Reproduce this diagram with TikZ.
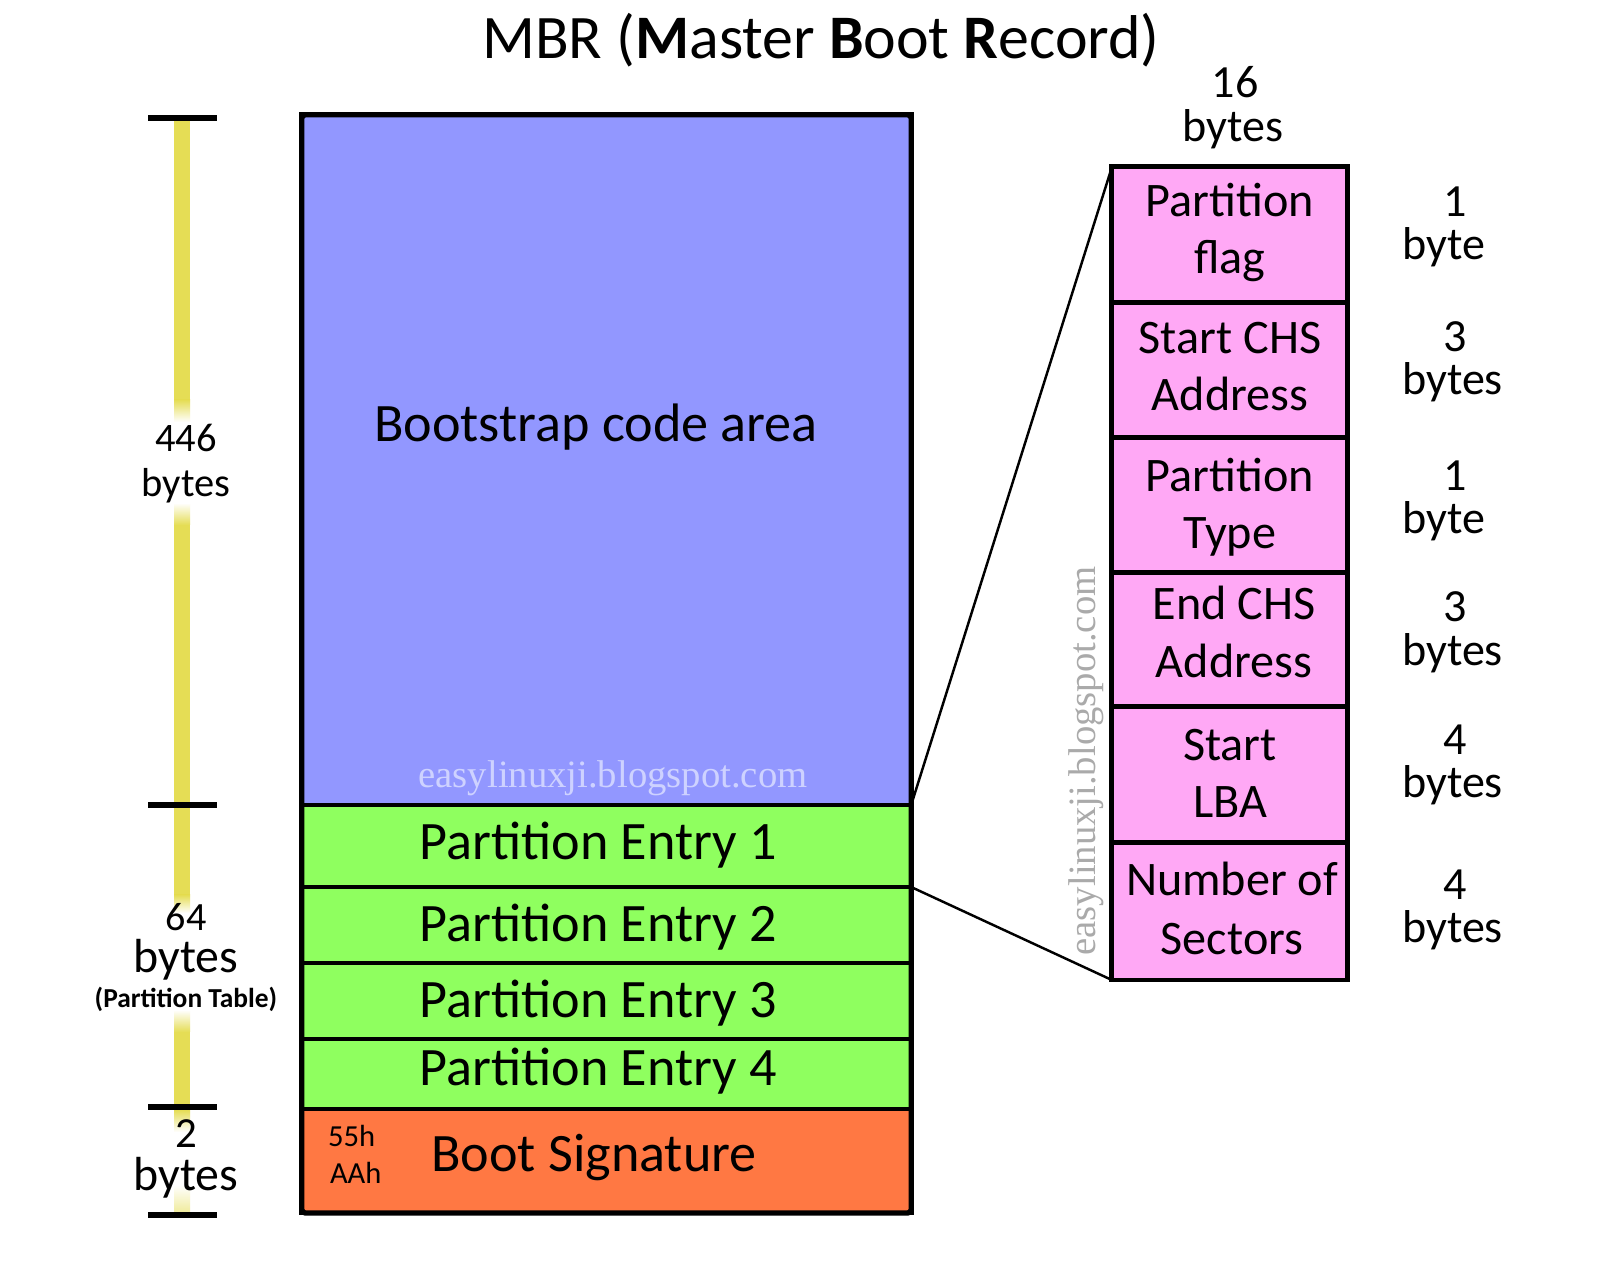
\documentclass[tikz,border=0pt]{standalone}
\usepackage{fontspec}
\setmainfont{Carlito}
\newfontfamily\wmfont{Liberation Serif}
\definecolor{bootblue}{RGB}{146,151,255}
\definecolor{entgreen}{RGB}{143,255,95}
\definecolor{sigorange}{RGB}{255,120,67}
\definecolor{fieldpink}{RGB}{255,168,245}
\definecolor{baryellow}{RGB}{229,221,85}
\definecolor{wmlav}{RGB}{206,210,255}
\definecolor{wmgray}{RGB}{170,170,170}
\tikzset{
  seg/.style={draw=black, line width=1.4pt, inner sep=0pt, outer sep=0pt, minimum width=6.09cm},
  field/.style={draw=black, line width=1.4pt, fill=fieldpink, inner sep=0pt, outer sep=0pt, minimum width=2.35cm},
  txt/.style={inner sep=0pt, outer sep=0pt, anchor=base},
  txtw/.style={inner sep=0pt, outer sep=0pt, anchor=base west},
  boxfont/.style={font=\fontsize{15.4}{18}\selectfont},
  fieldfont/.style={font=\fontsize{13.7}{16}\selectfont},
  sizefont/.style={font=\fontsize{13.1}{15}\selectfont},
  tickline/.style={line width=1.7pt, black},
  zoomline/.style={line width=0.7pt, black},
}
\begin{document}
\begin{tikzpicture}[x=0.01cm,y=-0.01cm]
\useasboundingbox (0,0) rectangle (1600,1280);
\fill[white] (0,0) rectangle (1600,1280);

% title
\node[txt, font=\fontsize{17.6}{20}\selectfont] (title) at (821,59) {MBR (\textbf{M}aster \textbf{B}oot \textbf{R}ecord)};

% yellow scale bar
\fill[baryellow] (174,118) rectangle (190,400);
\shade[top color=baryellow, bottom color=white] (174,400) rectangle (190,422);
\shade[top color=white, bottom color=baryellow] (174,503) rectangle (190,525);
\fill[baryellow] (174,525) rectangle (190,895);
\shade[top color=baryellow, bottom color=white] (174,895) rectangle (190,913);
\shade[top color=white, bottom color=baryellow] (174,1010) rectangle (190,1032);
\fill[baryellow] (174,1032) rectangle (190,1110);
\shade[top color=baryellow, bottom color=white] (174,1110) rectangle (190,1132);
\shade[top color=white, bottom color=baryellow!60] (174,1185) rectangle (190,1213);

\draw[tickline] (148,118) -- (217,118);
\draw[tickline] (148,805) -- (217,805);
\draw[tickline] (148,1107) -- (217,1107);
\draw[tickline] (148,1215) -- (217,1215);

% left labels
\node[txt, font=\fontsize{11.5}{14}\selectfont] (l446n) at (186,452) {446};
\node[txt, font=\fontsize{11.5}{14}\selectfont] (l446b) at (186,497) {bytes};
\node[txt, font=\fontsize{11.4}{14}\selectfont] (l64n) at (186,931) {64};
\node[txt, font=\fontsize{13.6}{16}\selectfont] (l64b) at (186,973) {bytes};
\node[txt, font=\bfseries\fontsize{7.8}{9}\selectfont] (l64t) at (186,1008) {(Partition Table)};
\node[txt, font=\fontsize{12.2}{15}\selectfont] (l2n) at (186,1148) {2};
\node[txt, font=\fontsize{13.6}{16}\selectfont] (l2b) at (186,1191) {bytes};

% main MBR box
\node[seg, fill=bootblue, minimum height=6.90cm] (code) at (606.5,460) {};
\node[seg, fill=entgreen, minimum height=0.82cm] (pe1) at (606.5,846) {};
\node[seg, fill=entgreen, minimum height=0.76cm] (pe2) at (606.5,925) {};
\node[seg, fill=entgreen, minimum height=0.76cm] (pe3) at (606.5,1001) {};
\node[seg, fill=entgreen, minimum height=0.70cm] (pe4) at (606.5,1074) {};
\node[seg, fill=sigorange, minimum height=1.04cm] (sig) at (606.5,1161) {};
\draw[line width=1.5pt, rounded corners=1pt] (code.north west) rectangle (sig.south east);

\node[txt, boxfont] (codet) at (596,442) {Bootstrap code area};
\node[txt, text=wmlav, font=\wmfont\fontsize{11}{13}\selectfont] (wm1) at (613,788) {easylinuxji.blogspot.com};
\node[txt, boxfont] (pe1t) at (598,860) {Partition Entry 1};
\node[txt, boxfont] (pe2t) at (598,942) {Partition Entry 2};
\node[txt, boxfont] (pe3t) at (598,1018) {Partition Entry 3};
\node[txt, boxfont] (pe4t) at (598,1086) {Partition Entry 4};
\node[txt, boxfont] (sigt) at (594,1172) {Boot Signature};
\node[txtw, font=\fontsize{8.7}{10}\selectfont] (s55) at (328,1147) {55h};
\node[txtw, font=\fontsize{8.7}{10}\selectfont] (sAA) at (330,1184) {AAh};

% partition entry fields
\node[field, minimum height=1.36cm] (pk1) at (1229.5,235) {};
\node[field, minimum height=1.35cm] (pk2) at (1229.5,370.5) {};
\node[field, minimum height=1.35cm] (pk3) at (1229.5,505.5) {};
\node[field, minimum height=1.34cm] (pk4) at (1229.5,640) {};
\node[field, minimum height=1.36cm] (pk5) at (1229.5,775) {};
\node[field, minimum height=1.37cm] (pk6) at (1229.5,911.5) {};

\node[txt, fieldfont] (pk1a) at (1230,217) {Partition};
\node[txt, fieldfont] (pk1b) at (1230,274) {flag};
\node[txt, fieldfont] (pk2a) at (1230,354) {Start CHS};
\node[txt, fieldfont] (pk2b) at (1230,411) {Address};
\node[txt, fieldfont] (pk3a) at (1230,492) {Partition};
\node[txt, fieldfont] (pk3b) at (1230,549) {Type};
\node[txt, fieldfont] (pk4a) at (1234,620) {End CHS};
\node[txt, fieldfont] (pk4b) at (1234,678) {Address};
\node[txt, fieldfont] (pk5a) at (1230,761) {Start};
\node[txt, fieldfont] (pk5b) at (1230,818) {LBA};
\node[txt, fieldfont] (pk6a) at (1232,896) {Number of};
\node[txt, fieldfont] (pk6b) at (1232,955) {Sectors};

% zoom lines
\draw[zoomline] (pe1.north east) -- (pk1.north west);
\draw[zoomline] (pe1.south east) -- (pk6.south west);

% vertical watermark
\node[txt, rotate=90, text=wmgray, font=\wmfont\fontsize{11}{13}\selectfont] (wm2) at (1095,761) {easylinuxji.blogspot.com};

% sizes
\node[txt, sizefont] (h16n) at (1235,98) {16};
\node[txt, sizefont] (h16b) at (1233,142) {bytes};

\node[txt, sizefont] (z1n) at (1455,217) {1};
\node[txtw, sizefont] (z1b) at (1402,260) {byte};
\node[txt, sizefont] (z2n) at (1455,352) {3};
\node[txtw, sizefont] (z2b) at (1402,395) {bytes};
\node[txt, sizefont] (z3n) at (1455,491) {1};
\node[txtw, sizefont] (z3b) at (1402,534) {byte};
\node[txt, sizefont] (z4n) at (1455,622) {3};
\node[txtw, sizefont] (z4b) at (1402,666) {bytes};
\node[txt, sizefont] (z5n) at (1455,755) {4};
\node[txtw, sizefont] (z5b) at (1402,798) {bytes};
\node[txt, sizefont] (z6n) at (1455,900) {4};
\node[txtw, sizefont] (z6b) at (1402,943) {bytes};
\end{tikzpicture}
\end{document}
